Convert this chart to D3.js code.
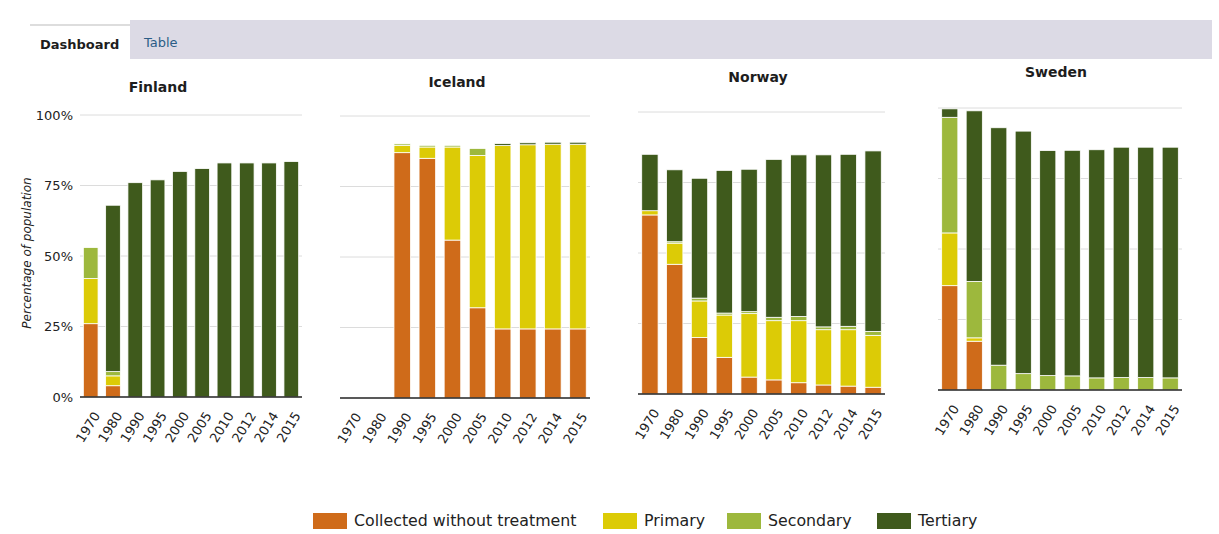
<!DOCTYPE html>
<html><head><meta charset="utf-8">
<script src="https://cdn.jsdelivr.net/npm/d3@7"></script>
<style>
body{margin:0;background:#fff;font-family:"DejaVu Sans",sans-serif;}
svg{display:block}
</style></head>
<body><svg id="c" width="1219" height="534"></svg>
<script>
const years = ["1970","1980","1990","1995","2000","2005","2010","2012","2014","2015"];
const countries = ["Finland","Iceland","Norway","Sweden"];
const seriesNames = ["Collected without treatment","Primary","Secondary","Tertiary"];
const seriesColors = ["#cf6b1a","#dccb06","#9db83d","#3f5a1c"];
const yTicks = [0,25,50,75,100];
const yTickLabels = ["0%","25%","50%","75%","100%"];

// values per country, per series (percentage of population)
const finlandCWT       = [26,4,0,0,0,0,0,0,0,0];
const finlandPrimary   = [16,3.5,0,0,0,0,0,0,0,0];
const finlandSecondary = [11,1.5,0,0,0,0,0,0,0,0];
const finlandTertiary  = [0,59,76,77,80,81,83,83,83,83.5];

const icelandCWT       = [0,0,87,85,56,32,24.5,24.5,24.5,24.5];
const icelandPrimary   = [0,0,2.5,4,33,54,65,65.3,65.5,65.5];
const icelandSecondary = [0,0,0.6,0.6,0.6,2.5,0,0,0,0];
const icelandTertiary  = [0,0,0,0,0,0,0.7,0.7,0.7,0.7];

const norwayCWT        = [63.5,46,20,13,6,5,4,3.2,2.8,2.4];
const norwayPrimary    = [1.5,7.5,13,15,22.5,21,22,19.6,20,18.4];
const norwaySecondary  = [0,0.5,1,0.7,0.7,1.2,1.5,1,1.2,1.4];
const norwayTertiary   = [20,25.5,42.5,50.6,50.5,56,57.3,61,61,64];

const swedenCWT        = [37,17.3,0,0,0,0,0,0,0,0];
const swedenPrimary    = [18.7,1.2,0,0,0,0,0,0,0,0];
const swedenSecondary  = [41,20,8.8,5.8,5.1,5,4.3,4.4,4.4,4.3];
const swedenTertiary   = [3,60.5,84.2,86,79.8,80,80.9,81.7,81.7,81.8];

const countrySeries = {
  Finland:[finlandCWT,finlandPrimary,finlandSecondary,finlandTertiary],
  Iceland:[icelandCWT,icelandPrimary,icelandSecondary,icelandTertiary],
  Norway:[norwayCWT,norwayPrimary,norwaySecondary,norwayTertiary],
  Sweden:[swedenCWT,swedenPrimary,swedenSecondary,swedenTertiary]
};

const svg = d3.select("#c");
const FONT = "'DejaVu Sans',sans-serif";

// Tabs
svg.append("rect").attr("x",130).attr("y",20).attr("width",1082).attr("height",39).attr("fill","#dcdae5");
svg.append("line").attr("x1",30).attr("x2",130).attr("y1",25).attr("y2",25).attr("stroke","#bbb");
svg.append("text").attr("x",40).attr("y",49).text("Dashboard").attr("font-family",FONT)
  .attr("font-size",13).attr("font-weight","bold").attr("fill","#1d1d1d");
svg.append("text").attr("x",144).attr("y",47).text("Table").attr("font-family",FONT)
  .attr("font-size",13).attr("fill","#2b5d86");

const panels = [
  {name:"Finland", x0:80,  x1:302, dy:0,  tx:158,  ty:92},
  {name:"Iceland", x0:340, x1:590, dy:1,  tx:457,  ty:87},
  {name:"Norway",  x0:638, x1:885, dy:-3, tx:758,  ty:82},
  {name:"Sweden",  x0:938, x1:1182,dy:-7, tx:1056, ty:77}
];

panels.forEach((p,pi)=>{
  const y = d3.scaleLinear().domain([0,100]).range([397+p.dy,115+p.dy]);
  const g = svg.append("g");
  const x = d3.scaleBand().domain(years).range([p.x0,p.x1]).paddingInner(0.34).paddingOuter(0.15);
  // gridlines
  g.selectAll("line.grid").data(yTicks.slice(1)).join("line")
    .attr("x1",p.x0).attr("x2",p.x1)
    .attr("y1",d=>y(d)).attr("y2",d=>y(d))
    .attr("stroke","#dcdcdc").attr("stroke-width",1);
  // stacked bars
  const rows = years.map((yr,i)=>{
    const o={year:yr};
    seriesNames.forEach((s,k)=>o[s]=countrySeries[p.name][k][i]);
    return o;
  });
  const stack = d3.stack().keys(seriesNames)(rows);
  stack.forEach((layer,k)=>{
    g.selectAll(null).data(layer.filter(d=>d[1]-d[0]>0)).join("rect")
      .attr("x",d=>x(d.data.year))
      .attr("width",x.bandwidth())
      .attr("y",d=>y(d[1]))
      .attr("height",d=>y(d[0])-y(d[1]))
      .attr("fill",seriesColors[k])
      .attr("stroke","#fff").attr("stroke-width",0.8);
  });
  // baseline
  g.append("line").attr("x1",p.x0).attr("x2",p.x1).attr("y1",y(0)).attr("y2",y(0))
    .attr("stroke","#222").attr("stroke-width",1.6);
  // x axis labels
  const xa = g.append("g").attr("transform",`translate(0,${y(0)})`)
    .call(d3.axisBottom(x).tickSize(0).tickPadding(0));
  xa.select(".domain").remove();
  xa.selectAll("text")
    .attr("font-family",FONT)
    .attr("font-size",13).attr("fill","#222")
    .attr("text-anchor","end")
    .attr("dy","0.35em")
    .attr("transform","translate(6,16) rotate(-58)");
  // title
  g.append("text").attr("x",p.tx).attr("y",p.ty)
    .attr("text-anchor","middle").attr("font-family",FONT).attr("font-size",14).attr("font-weight","bold")
    .attr("fill","#1d1d1d").text(p.name);
  // y axis on first panel
  if(pi===0){
    const ya = g.append("g").attr("transform",`translate(${p.x0-7},0)`)
      .call(d3.axisLeft(y).tickValues(yTicks).tickFormat((d,i)=>yTickLabels[i]).tickSize(0).tickPadding(0));
    ya.select(".domain").remove();
    ya.selectAll("text").attr("font-family",FONT)
      .attr("font-size",13).attr("fill","#222");
    g.append("text").attr("transform",`translate(31,253) rotate(-90)`)
      .attr("text-anchor","middle").attr("font-family",FONT).attr("font-size",12).attr("font-style","italic")
      .attr("fill","#222").text("Percentage of population");
  }
});

// Legend
const legendX = [313,603,727,877];
const lg = svg.append("g");
seriesNames.forEach((s,k)=>{
  lg.append("rect").attr("x",legendX[k]).attr("y",513).attr("width",34).attr("height",16).attr("fill",seriesColors[k]);
  lg.append("text").attr("x",legendX[k]+41).attr("y",526).attr("font-family",FONT).attr("font-size",15.8).attr("fill","#222").text(s);
});
</script></body></html>
